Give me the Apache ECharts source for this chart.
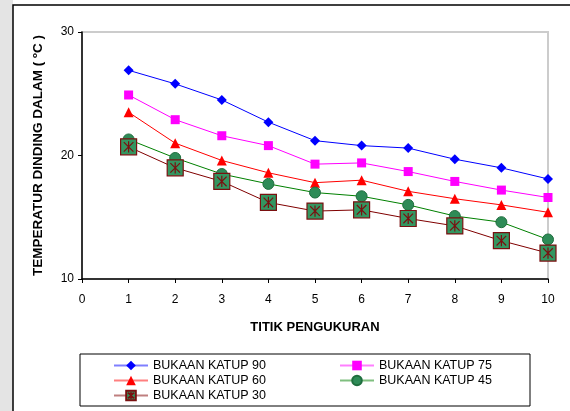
<!DOCTYPE html>
<html>
<head>
<meta charset="utf-8">
<script src="https://cdn.jsdelivr.net/npm/echarts@6/dist/echarts.min.js"></script>
<style>
  html, body { margin: 0; padding: 0; background: #ffffff; }
  #chart { width: 570px; height: 411px; }
</style>
</head>
<body>
<div id="chart"></div>
<script>
// Measurement points along the wall (TITIK PENGUKURAN)
const points = [1, 2, 3, 4, 5, 6, 7, 8, 9, 10];

// Inner wall temperature (°C) for each valve opening
const katup90 = [26.9, 25.8, 24.5, 22.7, 21.2, 20.8, 20.6, 19.7, 19.0, 18.1];
const katup75 = [24.9, 22.9, 21.6, 20.8, 19.3, 19.4, 18.7, 17.9, 17.2, 16.6];
const katup60 = [23.5, 21.0, 19.6, 18.6, 17.8, 18.0, 17.1, 16.5, 16.0, 15.4];
const katup45 = [21.3, 19.8, 18.5, 17.7, 17.0, 16.7, 16.0, 15.1, 14.6, 13.2];
const katup30 = [20.7, 19.0, 17.9, 16.2, 15.5, 15.6, 14.9, 14.3, 13.1, 12.1];

// Axis ticks
const xTicks = [0, 10, 1];   // min, max, interval
const yTicks = [10, 30, 10]; // min, max, interval

const FONT = 'Liberation Sans, Arial, sans-serif';

// square marker with an asterisk inside (fill = square, stroke = outline + asterisk)
const STAR_SQUARE = 'path://M0,0H20V20H0Z M4,4L16,16 M16,4L4,16 M10,3V17';

function pairs(vals) {
  return points.map((p, i) => [p, vals[i]]);
}

const chart = echarts.init(document.getElementById('chart'), null, { renderer: 'canvas' });

const lineSeries = (name, data, color, symbol, size, extra) => Object.assign({
  name: name,
  type: 'line',
  data: pairs(data),
  symbol: symbol,
  symbolSize: size,
  showSymbol: true,
  lineStyle: { color: color, width: 1 },
  itemStyle: { color: color },
  z: 3
}, extra || {});

const legendCommon = {
  orient: 'vertical',
  top: 359,
  itemWidth: 34, itemHeight: 12, itemGap: 2,
  padding: 0,
  lineStyle: { width: 2, opacity: 0.5 },
  textStyle: { fontFamily: FONT, fontSize: 12.5, lineHeight: 12, color: '#000' }
};

chart.setOption({
  animation: false,
  backgroundColor: '#ffffff',
  graphic: [
    // light strip on the left of the frame
    { type: 'rect', shape: { x: 0, y: 0, width: 13, height: 411 }, style: { fill: '#e4e4e4' }, z: -10 },
    // outer chart frame
    { type: 'rect', shape: { x: 13, y: 5, width: 620, height: 460 }, style: { fill: 'none', stroke: '#000000', lineWidth: 1.5 }, z: 10 },
    // legend frame
    { type: 'rect', shape: { x: 80, y: 354, width: 450, height: 52 }, style: { fill: 'none', stroke: '#000000', lineWidth: 1 }, z: 10 }
  ],
  grid: {
    left: 82, right: 22, top: 32, bottom: 132,
    show: true,
    borderColor: '#cccccc',
    borderWidth: 2,
    backgroundColor: 'transparent'
  },
  xAxis: {
    type: 'value',
    min: xTicks[0], max: xTicks[1], interval: xTicks[2],
    name: 'TITIK PENGUKURAN',
    nameLocation: 'middle',
    nameGap: 42,
    nameTextStyle: { fontFamily: FONT, fontSize: 13, fontWeight: 'bold', color: '#000' },
    axisLine: { show: true, onZero: false, lineStyle: { color: '#000', width: 1.5 } },
    axisTick: { show: true, inside: false, length: 4, lineStyle: { color: '#000' } },
    axisLabel: { fontFamily: FONT, fontSize: 12, color: '#000', margin: 15 },
    splitLine: { show: false }
  },
  yAxis: {
    type: 'value',
    min: yTicks[0], max: yTicks[1], interval: yTicks[2],
    name: 'TEMPERATUR DINDING DALAM ( ºC )',
    nameLocation: 'middle',
    nameGap: 37,
    nameRotate: 90,
    nameTextStyle: { fontFamily: FONT, fontSize: 13.5, fontWeight: 'bold', color: '#000' },
    axisLine: { show: true, onZero: false, lineStyle: { color: '#000', width: 1.5 } },
    axisTick: { show: true, inside: false, length: 4, lineStyle: { color: '#000' } },
    axisLabel: { fontFamily: FONT, fontSize: 12, color: '#000', margin: 8 },
    splitLine: { show: false }
  },
  legend: [
    Object.assign({}, legendCommon, {
      data: ['BUKAAN KATUP 90', 'BUKAAN KATUP 60', 'BUKAAN KATUP 30'],
      left: 113
    }),
    Object.assign({}, legendCommon, {
      data: ['BUKAAN KATUP 75', 'BUKAAN KATUP 45'],
      left: 339
    })
  ],
  series: [
    lineSeries('BUKAAN KATUP 90', katup90, '#0000ff', 'diamond', 10),
    lineSeries('BUKAAN KATUP 75', katup75, '#ff00ff', 'rect', 9),
    lineSeries('BUKAAN KATUP 60', katup60, '#ff0000', 'triangle', 10),
    lineSeries('BUKAAN KATUP 45', katup45, '#008000', 'circle', 11, {
      itemStyle: { color: '#2e8b57', borderColor: '#1f6e3e', borderWidth: 1 }
    }),
    lineSeries('BUKAAN KATUP 30', katup30, '#800000', STAR_SQUARE, 16, {
      itemStyle: { color: '#339660', borderColor: '#7a1010', borderWidth: 1.2 },
      z: 4
    })
  ]
});
</script>
</body>
</html>
